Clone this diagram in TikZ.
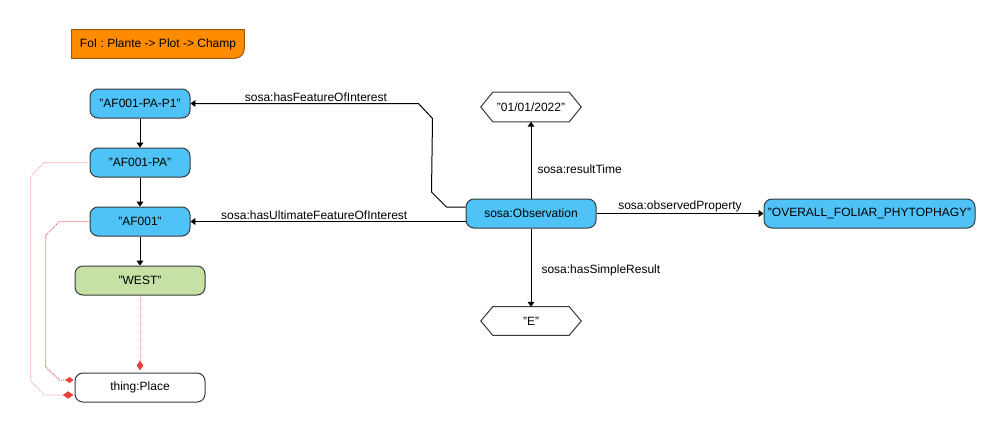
\documentclass[tikz,border=0pt]{standalone}
\usepackage{fontspec}
\setmainfont{Liberation Sans}
\usetikzlibrary{calc,arrows.meta}
\definecolor{skyfill}{HTML}{4FC3F7}
\definecolor{leaf}{HTML}{C5E1A5}
\definecolor{edgeline}{HTML}{36393D}
\definecolor{foifill}{HTML}{FF8C00}
\definecolor{foiline}{HTML}{A0580E}
\definecolor{linkred}{HTML}{E8403A}
\definecolor{linkpink}{HTML}{F4A0A0}
\tikzset{
  box/.style={draw=edgeline, line width=0.75pt, rounded corners=6pt, inner sep=0pt,
    minimum width=75pt, minimum height=21.75pt, font=\fontsize{9pt}{10pt}\selectfont},
  bluebox/.style={box, fill=skyfill},
  greenbox/.style={box, fill=leaf, minimum width=97.5pt},
  plainbox/.style={box, fill=white, minimum width=97.5pt},
  hexbox/.style={inner sep=0pt, minimum width=75pt, minimum height=21.75pt,
    font=\fontsize{9pt}{10pt}\selectfont},
  hexline/.style={draw=edgeline, line width=0.75pt, fill=white},
  arr/.style={draw=black, line width=0.75pt, -{Triangle[length=3.6pt,width=5pt]}},
  lbl/.style={font=\fontsize{9pt}{10pt}\selectfont, inner sep=1.5pt},
  reddot/.style={line width=0.75pt, dash pattern=on 0.75pt off 0.75pt},
}
\begin{document}
\begin{tikzpicture}[x=0.75pt,y=-0.75pt]
\useasboundingbox (0,0) rectangle (1005,433);

% title tag, rounded only at the bottom right corner
\node[inner sep=0pt, minimum width=129pt, minimum height=21pt,
  font=\fontsize{9pt}{10pt}\selectfont] (foi) at (158,44) {};
\path[fill=foifill, draw=foiline, line width=0.75pt]
  (foi.north west) -- (foi.north east) [rounded corners=7pt] -- (foi.south east)
  [sharp corners] -- (foi.south west) -- cycle;
\node[inner sep=0pt, font=\fontsize{9pt}{10pt}\selectfont] at (foi.center) {FoI : Plante -> Plot -> Champ};

% feature-of-interest chain
\node[bluebox] (p1) at (140,103.5) {"AF001-PA-P1"};
\node[bluebox] (pa) at (140,162.5) {"AF001-PA"};
\node[bluebox] (af) at (140,221.5) {"AF001"};
\node[greenbox] (west) at (140,280.5) {"WEST"};
\node[plainbox] (place) at (140,387.5) {thing:Place};

% observation and its values
\node[bluebox, minimum width=97.5pt] (obs) at (531,213.5) {sosa:Observation};
\node[bluebox, minimum width=158.25pt] (ovp) at (869.5,213.5) {"OVERALL\_FOLIAR\_PHYTOPHAGY"};

\node[hexbox] (date) at (531,107) {};
\path[hexline] (date.west) -- ($(date.north west)+(12,0)$) -- ($(date.north east)+(-12,0)$)
  -- (date.east) -- ($(date.south east)+(-12,0)$) -- ($(date.south west)+(12,0)$) -- cycle;
\node[hexbox] at (date.center) {"01/01/2022"};

\node[hexbox, minimum height=21pt] (res) at (531,321) {};
\path[hexline] (res.west) -- ($(res.north west)+(12,0)$) -- ($(res.north east)+(-12,0)$)
  -- (res.east) -- ($(res.south east)+(-12,0)$) -- ($(res.south west)+(12,0)$) -- cycle;
\node[hexbox] at (res.center) {"E"};

% chain arrows
\draw[arr] (p1.south) -- (pa.north);
\draw[arr] (pa.south) -- (af.north);
\draw[arr] (af.south) -- (west.north);

% observation properties
\draw[arr] (obs.north) -- (date.south)
  node[lbl, pos=0.38, right=3pt] {sosa:resultTime};
\draw[arr] (obs.south) -- (res.north)
  node[lbl, pos=0.53, right=6pt] {sosa:hasSimpleResult};
\draw[arr] (obs.east) -- (ovp.west)
  node[lbl, midway, above=-0.5pt] {sosa:observedProperty};
\draw[arr] (obs.west |- af.east) -- (af.east)
  node[lbl, pos=0.55, above=-0.5pt] {sosa:hasUltimateFeatureOfInterest};
\draw[arr, line join=round] ($(obs.west)+(0,-6.5)$) -- ++(-19,0) -- ++(-15,-15)
  -- ($(p1.east)+(242,15)$) -- ++(-14,-15) -- (p1.east)
  node[lbl, pos=0.45, above=-0.5pt] {sosa:hasFeatureOfInterest};

% place links
\draw[reddot, draw=linkpink, -{Diamond[length=7.5pt,width=5pt,fill=linkred,color=linkred]}]
  (west.south) -- ($(place.north)+(0,-2)$);
\draw[reddot, draw=linkpink, -{Diamond[length=8pt,width=5.5pt,fill=linkred,color=linkred]}]
  (pa.west) -- ++(-45,0) -- ++(-14,14) -- ($(place.west)+(-44,-6.5)$) -- ++(14,14)
  -- ($(place.west)+(-1,7.5)$);
\draw[reddot, draw=linkred!80, -{Diamond[length=6pt,width=4.5pt,fill=linkred,color=linkred]}]
  (af.west) -- ++(-30,0) -- ++(-14,14) -- ($(place.west)+(-29,-20.5)$) -- ++(14,13)
  -- ($(place.west)+(-1,-7.5)$);
\end{tikzpicture}
\end{document}
